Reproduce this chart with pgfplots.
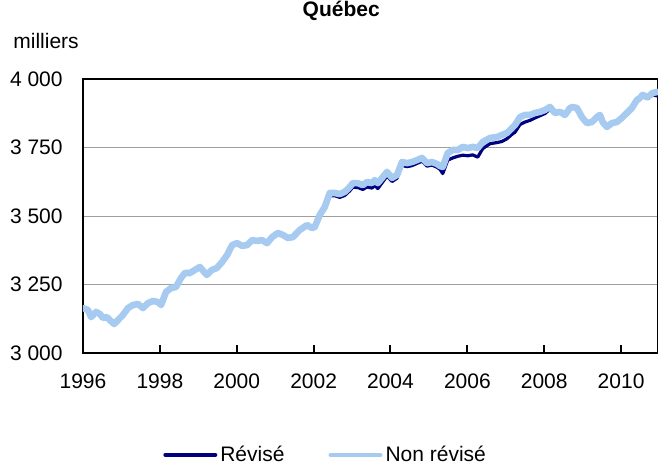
\documentclass[border=0pt]{standalone}
\usepackage{fontspec}
\setmainfont{Liberation Sans}
\usepackage{pgfplots}
\pgfplotsset{compat=1.18}

\definecolor{revise}{RGB}{0,0,128}
\definecolor{nonrevise}{RGB}{166,202,240}

% valeurs mensuelles (milliers)
\pgfplotstableread{
t v
1996.00 3166
1996.13 3159
1996.21 3133
1996.34 3152
1996.44 3144
1996.52 3130
1996.62 3133
1996.70 3122
1996.81 3104
1996.91 3122
1997.04 3143
1997.17 3168
1997.30 3178
1997.43 3180
1997.56 3166
1997.69 3184
1997.82 3192
1997.95 3186
1998.03 3176
1998.16 3224
1998.29 3238
1998.42 3242
1998.55 3276
1998.65 3294
1998.78 3294
1998.91 3304
1999.04 3315
1999.22 3287
1999.35 3304
1999.48 3312
1999.62 3334
1999.75 3360
1999.88 3396
2000.01 3398
2000.14 3388
2000.27 3392
2000.40 3410
2000.53 3405
2000.66 3410
2000.79 3398
2000.92 3420
2001.07 3436
2001.20 3428
2001.33 3417
2001.46 3420
2001.64 3446
2001.83 3464
2001.96 3452
2002.03 3456
2002.16 3500
2002.29 3527
2002.42 3574
2002.55 3574
2002.68 3568
2002.81 3575
2002.94 3592
2003.02 3605
2003.15 3604
2003.28 3597
2003.39 3606
2003.52 3602
2003.59 3612
2003.67 3600
2003.80 3625
2003.91 3646
2004.04 3626
2004.17 3638
2004.30 3685
2004.43 3680
2004.56 3684
2004.69 3692
2004.82 3700
2004.95 3682
2005.08 3686
2005.21 3678
2005.29 3670
2005.36 3655
2005.49 3704
2005.62 3712
2005.75 3718
2005.88 3722
2006.01 3720
2006.14 3723
2006.27 3715
2006.40 3746
2006.59 3764
2006.77 3768
2006.90 3772
2007.03 3782
2007.16 3798
2007.24 3806
2007.37 3834
2007.50 3843
2007.63 3849
2007.76 3858
2007.89 3866
2008.02 3874
2008.15 3890
2008.28 3872
2008.41 3880
2008.54 3870
2008.67 3898
2008.74 3901
2008.85 3897
2008.98 3862
2009.11 3838
2009.24 3845
2009.37 3864
2009.45 3870
2009.52 3842
2009.63 3824
2009.76 3838
2009.89 3846
2010.02 3860
2010.15 3874
2010.28 3890
2010.41 3917
2010.49 3926
2010.56 3936
2010.69 3928
2010.82 3942
2010.95 3938
}\revise

\pgfplotstableread{
t v
1996.00 3164
1996.13 3157
1996.21 3131
1996.34 3150
1996.44 3142
1996.52 3128
1996.62 3131
1996.70 3120
1996.81 3106
1996.91 3120
1997.04 3139
1997.17 3164
1997.30 3175
1997.43 3179
1997.56 3164
1997.69 3182
1997.82 3190
1997.95 3186
1998.03 3175
1998.16 3223
1998.29 3237
1998.42 3241
1998.55 3274
1998.65 3292
1998.78 3292
1998.91 3303
1999.04 3314
1999.22 3285
1999.35 3303
1999.48 3310
1999.62 3332
1999.75 3358
1999.88 3394
2000.01 3401
2000.14 3391
2000.27 3394
2000.40 3412
2000.53 3409
2000.66 3412
2000.79 3401
2000.92 3423
2001.07 3438
2001.20 3431
2001.33 3420
2001.46 3423
2001.64 3449
2001.83 3467
2001.96 3456
2002.03 3460
2002.16 3504
2002.29 3533
2002.42 3584
2002.55 3584
2002.68 3580
2002.81 3588
2002.94 3606
2003.02 3620
2003.15 3620
2003.28 3613
2003.39 3624
2003.52 3620
2003.59 3631
2003.67 3620
2003.80 3642
2003.91 3661
2004.04 3639
2004.17 3650
2004.30 3697
2004.43 3693
2004.56 3697
2004.69 3704
2004.82 3712
2004.95 3693
2005.08 3697
2005.21 3690
2005.29 3682
2005.36 3679
2005.49 3730
2005.62 3741
2005.75 3741
2005.88 3752
2006.01 3748
2006.14 3752
2006.27 3748
2006.40 3770
2006.59 3785
2006.77 3788
2006.90 3796
2007.03 3803
2007.16 3821
2007.24 3832
2007.37 3861
2007.50 3869
2007.63 3869
2007.76 3876
2007.89 3880
2008.02 3887
2008.15 3898
2008.28 3876
2008.41 3880
2008.54 3869
2008.67 3894
2008.74 3898
2008.85 3894
2008.98 3861
2009.11 3839
2009.24 3843
2009.37 3861
2009.45 3869
2009.52 3843
2009.63 3825
2009.76 3839
2009.89 3843
2010.02 3858
2010.15 3876
2010.28 3894
2010.41 3923
2010.49 3931
2010.56 3942
2010.69 3934
2010.82 3949
2010.95 3953
}\nonrevise

\begin{document}
\begin{tikzpicture}[font=\fontsize{10.5}{12.6}\selectfont]
\useasboundingbox (-41.5pt,-57.5pt) rectangle (287.5pt,176.5pt);
\begin{axis}[
    at={(0,0)}, anchor=south west,
    scale only axis,
    width=287.5pt, height=137pt,
    xmin=1996, xmax=2010.96,
    ymin=3000, ymax=4000,
    xtick={1996,1998,2000,2002,2004,2006,2008,2010},
    xticklabels={1996,1998,2000,2002,2004,2006,2008,2010},
    ytick={3000,3250,3500,3750,4000},
    yticklabels={3 000,3 250,3 500,3 750,4 000},
    xtick pos=left,
    tick align=inside,
    major tick length=4pt,
    xtick style={black, line width=1pt},
    ytick style={draw=none},
    xticklabel style={inner sep=0pt, yshift=-10pt},
    yticklabel style={inner sep=0pt, xshift=-10pt},
    axis line style={black, line width=1pt},
    ymajorgrids=true,
    grid style={gray!75, line width=0.5pt},
    title={\bfseries Québec},
    title style={at={(axis description cs:0.449,1.186)}, anchor=base, inner sep=0pt},
    ylabel={milliers},
    ylabel style={rotate=-90, at={(axis description cs:-0.1217,1.113)}, anchor=base west, inner sep=0pt},
    legend columns=2,
    legend style={draw=none, fill=none, at={(axis description cs:0.139,-0.372)}, anchor=west,
        inner sep=0pt, nodes={inner sep=1pt},
        /tikz/every odd column/.append style={column sep=0.5pt},
        /tikz/every even column/.append style={column sep=21pt}},
    legend image code/.code={\draw[#1, line width=2pt] (0pt,0pt) -- (25pt,0pt);},
    every axis plot/.append style={line join=round, line cap=round},
]
\addplot[color=revise, line width=1.6pt] table[x=t, y=v] {\revise};
\addlegendentry{Révisé}
\addplot[color=nonrevise, line width=3.3pt] table[x=t, y=v] {\nonrevise};
\addlegendentry{Non révisé}
\end{axis}
\end{tikzpicture}
\end{document}
